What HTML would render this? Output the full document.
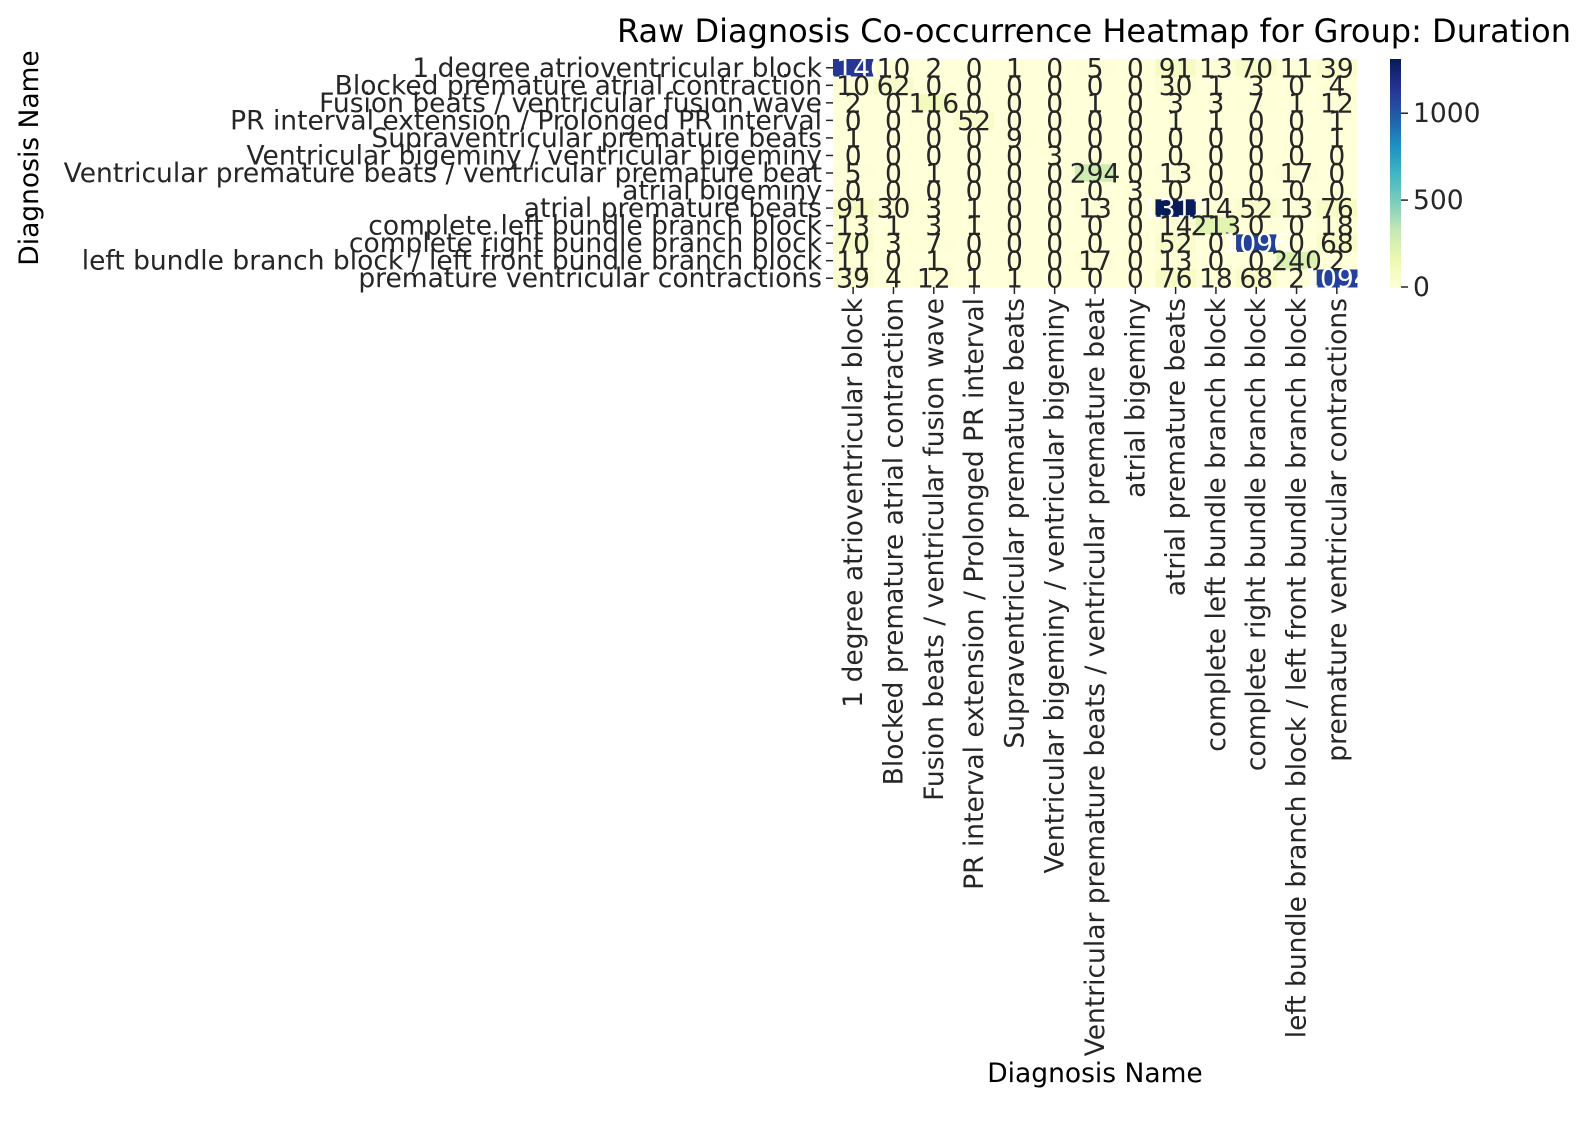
<!DOCTYPE html>
<html><head><meta charset="utf-8"><style>
body{margin:0;background:#fff;}
svg text{font-family:"DejaVu Sans","Liberation Sans",sans-serif;fill:#262626;}
</style></head><body>
<svg id="chart" width="1592" height="1123" xmlns="http://www.w3.org/2000/svg">
<rect width="1592" height="1123" fill="#fff"/>
<text x="1094" y="42" font-size="32" text-anchor="middle" style="fill:#000">Raw Diagnosis Co-occurrence Heatmap for Group: Duration</text>
<text x="1095" y="1082" font-size="26.5" text-anchor="middle" style="fill:#000">Diagnosis Name</text>
<text transform="translate(38,158) rotate(-90)" font-size="26.5" text-anchor="middle" style="fill:#000">Diagnosis Name</text>
<g id="cells"></g><g id="annots"></g><g id="ylabels"></g><g id="xlabels"></g><g id="cbar"></g>
</svg>
<script>
const categories = ["1 degree atrioventricular block","Blocked premature atrial contraction","Fusion beats / ventricular fusion wave","PR interval extension / Prolonged PR interval","Supraventricular premature beats","Ventricular bigeminy / ventricular bigeminy","Ventricular premature beats / ventricular premature beat","atrial bigeminy","atrial premature beats","complete left bundle branch block","complete right bundle branch block","left bundle branch block / left front bundle branch block","premature ventricular contractions"];
const row0 = [1140,10,2,0,1,0,5,0,91,13,70,11,39];
const row1 = [10,62,0,0,0,0,0,0,30,1,3,0,4];
const row2 = [2,0,116,0,0,0,1,0,3,3,7,1,12];
const row3 = [0,0,0,52,0,0,0,0,1,1,0,0,1];
const row4 = [1,0,0,0,9,0,0,0,0,0,0,0,1];
const row5 = [0,0,0,0,0,3,0,0,0,0,0,0,0];
const row6 = [5,0,1,0,0,0,294,0,13,0,0,17,0];
const row7 = [0,0,0,0,0,0,0,3,0,0,0,0,0];
const row8 = [91,30,3,1,0,0,13,0,1312,14,52,13,76];
const row9 = [13,1,3,1,0,0,0,0,14,213,0,0,18];
const row10 = [70,3,7,0,0,0,0,0,52,0,1096,0,68];
const row11 = [11,0,1,0,0,0,17,0,13,0,0,240,2];
const row12 = [39,4,12,1,1,0,0,0,76,18,68,2,1094];
const cbarTicks = [0,500,1000];
const matrix = [row0,row1,row2,row3,row4,row5,row6,row7,row8,row9,row10,row11,row12];
const vmax = Math.max(...matrix.flat());
const X0=833,X1=1357,Y0=59,Y1=287,n=categories.length;
const cw=(X1-X0)/n, ch=(Y1-Y0)/n;
const xPos=i=>X0+i*cw, yPos=i=>Y0+i*ch;
const FS=26.5;
const stops=[[255,255,217],[237,248,177],[199,233,180],[127,205,187],[65,182,196],[29,145,192],[34,94,168],[37,52,148],[8,29,88]];
function cmap(t){t=Math.max(0,Math.min(1,t))*8;const i=Math.min(7,Math.floor(t)),f=t-i;const a=stops[i],b=stops[i+1];return [0,1,2].map(k=>Math.round(a[k]+(b[k]-a[k])*f));}
const NS="http://www.w3.org/2000/svg";
function mk(tag,attrs,parent){const e=document.createElementNS(NS,tag);for(const k in attrs)e.setAttribute(k,attrs[k]);parent.appendChild(e);return e;}
const cells=document.getElementById('cells'),ann=document.getElementById('annots'),yl=document.getElementById('ylabels'),xl=document.getElementById('xlabels'),cb=document.getElementById('cbar');
matrix.forEach((row,r)=>row.forEach((v,c)=>{
  const col=cmap(v/vmax);
  const rc=mk('rect',{x:xPos(c),y:yPos(r),width:cw+0.5,height:ch+0.5,fill:`rgb(${col})`},cells);
  
  
  const lum=0.2126*col[0]/255+0.7152*col[1]/255+0.0722*col[2]/255;
  const t=mk('text',{x:xPos(c)+cw/2,y:yPos(r)+ch/2+9.5,'font-size':FS,'text-anchor':'middle'},ann);
  
  
  if(lum<0.408)t.style.fill='#fff';
  t.textContent=v;
}));
categories.forEach((name,i)=>{
  const y=yPos(i)+ch/2;
  mk('line',{x1:X0-7,x2:X0,y1:y,y2:y,stroke:'#262626','stroke-width':1.5},yl);
  const t=mk('text',{x:X0-11,y:y+9,'font-size':FS,'text-anchor':'end'},yl);
  
  
  t.textContent=name;
  const x=xPos(i)+cw/2;
  mk('line',{x1:x,x2:x,y1:Y1,y2:Y1+7,stroke:'#262626','stroke-width':1.5},xl);
  const tx=mk('text',{transform:`translate(${x+9},${Y1+11}) rotate(-90)`,'font-size':FS,'text-anchor':'end'},xl);
  
  
  tx.textContent=name;
});
const CX=1390,CW=11;
for(let k=0;k<100;k++){
  const c=cmap(1-k/100);
  mk('rect',{x:CX,y:Y0+k*(Y1-Y0)/100,width:CW,height:(Y1-Y0)/100+0.6,fill:`rgb(${c})`},cb);
}


cbarTicks.forEach(v=>{
  const y=Y1-(v/vmax)*(Y1-Y0);
  mk('line',{x1:CX+CW,x2:CX+CW+7,y1:y,y2:y,stroke:'#262626','stroke-width':1.5},cb);
  const t=mk('text',{x:CX+CW+12,y:y+9,'font-size':FS},cb);
  
  
  t.textContent=v;
});
</script>
</body></html>
